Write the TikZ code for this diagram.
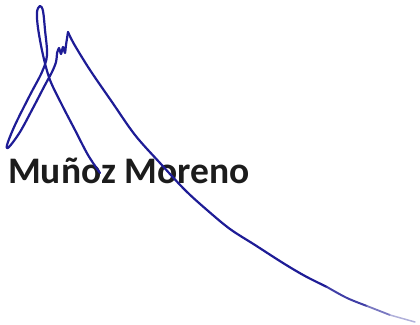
\documentclass[tikz,border=0pt]{standalone}
\usepackage{fontspec}
\setmainfont{Carlito}
\definecolor{inkblue}{RGB}{30,28,150}
\definecolor{namegray}{RGB}{28,28,28}
\begin{document}
\begin{tikzpicture}[x=1pt,y=-1pt,
  ink/.style={draw=inkblue, line width=2.2pt, line cap=round, line join=round},
  sig/.style={smooth, tension=0.55}]
\useasboundingbox (0,0) rectangle (420,324);
\node[anchor=base west, inner sep=0pt, text=namegray, font=\bfseries\fontsize{37.5}{37.5}\selectfont] (name) at (8,183) {Muñoz Moreno};
% tall loop, thin loop, rising stroke
\draw[ink] plot[sig] coordinates {(100,173) (88,155) (75,130) (62,105) (50,80) (43,55) (38,28) (37,12) (40,6) (43,11) (45,30) (47,55) (42,72) (30,95) (15,125) (7,145) (9,147) (20,132) (33,108) (45,85) (52,72) (56,62) (57,53)};
% the small w
\draw[ink] plot[smooth, tension=0.3] coordinates {(57,53) (59,48) (61,54) (63,47) (65,53) (66,45) (68,32)};
% long tail
\draw[ink] plot[sig] coordinates {(68,32) (74,44) (90,70) (112,102) (135,135) (160,163) (185,190) (207,210) (230,229) (255,245) (283,263) (305,276) (327,287)};
\draw[ink, draw=inkblue!85!white, line width=2pt] plot[sig] coordinates {(327,287) (347,298) (367,306)};
\draw[ink, draw=inkblue!60!white, line width=1.8pt] plot[sig] coordinates {(367,306) (390,315)};
\draw[ink, draw=inkblue!35!white, line width=1.5pt] plot[sig] coordinates {(390,315) (415,322)};
\end{tikzpicture}
\end{document}
